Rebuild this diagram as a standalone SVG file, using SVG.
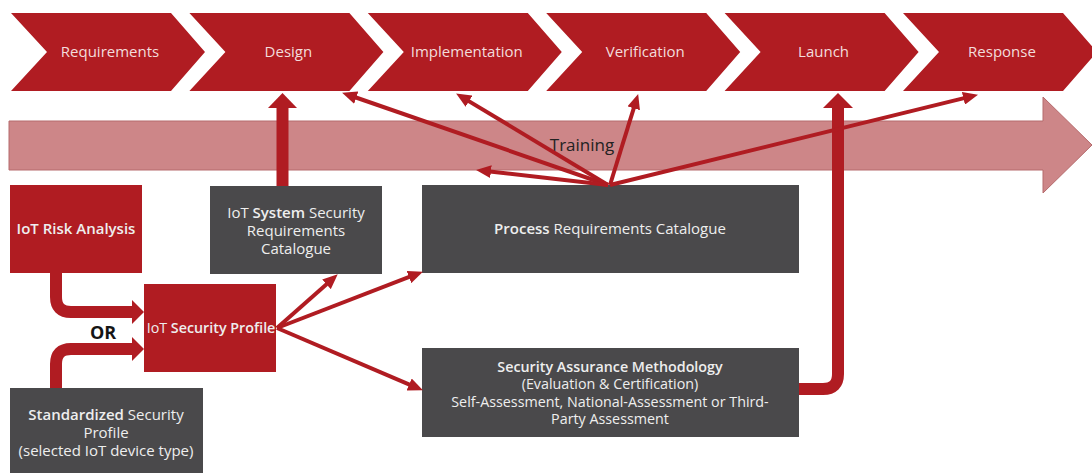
<svg xmlns="http://www.w3.org/2000/svg" width="1092" height="473" viewBox="0 0 1092 473">
<style>
.chev{fill:#b01c22}
.chevt{font-family:"Open Sans","Liberation Sans",sans-serif;font-size:15px;fill:#f3dcdc;text-anchor:middle}
.red{fill:#b01c22}
.gray{fill:#4a494b}
.bt{font-family:"Open Sans","Liberation Sans",sans-serif;font-size:15px;fill:#eeeeee;text-anchor:middle}
.sm{font-size:14.3px}
.b{font-weight:600}
.thick{fill:none;stroke:#b01c22;stroke-width:12}
.thin{fill:none;stroke:#b01c22;stroke-width:4;marker-end:url(#ah)}
.head{fill:#b01c22}
</style>
<defs>
<marker id="ah" markerUnits="userSpaceOnUse" markerWidth="15" markerHeight="13" refX="8" refY="6.5" orient="auto">
<path d="M0,0 L15,6.5 L0,13 Z" fill="#b01c22"/>
</marker>
</defs>
<rect width="1092" height="473" fill="#ffffff"/>

<g id="training">
<polygon points="9,121 1043,121 1043,97 1092,145 1043,193 1043,170 9,170" fill="#cd8688" stroke="#b56a6c" stroke-width="1"/>
<text x="582" y="151" font-family="Open Sans, Liberation Sans, sans-serif" font-size="17" font-weight="500" fill="#222222" text-anchor="middle">Training</text>
</g>

<g id="phases">
<g id="requirements"><path class="chev" d="M11,13 H171 L205,52 L171,91 H11 L47,52 Z"/><text class="chevt" x="110" y="57">Requirements</text></g>
<g id="design"><path class="chev" d="M189.4,13 H349.4 L383.4,52 L349.4,91 H189.4 L225.4,52 Z"/><text class="chevt" x="288.4" y="57">Design</text></g>
<g id="implementation"><path class="chev" d="M367.8,13 H527.8 L561.8,52 L527.8,91 H367.8 L403.8,52 Z"/><text class="chevt" x="466.8" y="57">Implementation</text></g>
<g id="verification"><path class="chev" d="M546.2,13 H706.2 L740.2,52 L706.2,91 H546.2 L582.2,52 Z"/><text class="chevt" x="645.2" y="57">Verification</text></g>
<g id="launch"><path class="chev" d="M724.6,13 H884.6 L918.6,52 L884.6,91 H724.6 L760.6,52 Z"/><text class="chevt" x="823.6" y="57">Launch</text></g>
<g id="response"><path class="chev" d="M903,13 H1063 L1097,52 L1063,91 H903 L939,52 Z"/><text class="chevt" x="1002" y="57">Response</text></g>
</g>

<g id="risk-analysis">
<rect class="red" x="10" y="185" width="132" height="88"/>
<text class="bt b" x="76" y="234">IoT Risk Analysis</text>
</g>

<g id="system-catalogue">
<rect class="gray" x="210" y="186" width="172" height="88"/>
<text class="bt" x="296" y="218">IoT <tspan class="b">System</tspan> Security</text>
<text class="bt" x="296" y="236">Requirements</text>
<text class="bt" x="296" y="254">Catalogue</text>
</g>

<g id="security-profile">
<rect class="red" x="144" y="284" width="132" height="88"/>
<text class="bt sm" x="211" y="333">IoT <tspan class="b">Security Profile</tspan></text>
</g>

<g id="standardized-profile">
<rect class="gray" x="10" y="388" width="193" height="90"/>
<text class="bt" x="106" y="420"><tspan class="b">Standardized</tspan> Security</text>
<text class="bt" x="106" y="438">Profile</text>
<text class="bt" x="106" y="456">(selected IoT device type)</text>
</g>

<g id="process-catalogue">
<rect class="gray" x="422" y="185" width="377" height="88"/>
<text class="bt" x="610" y="234"><tspan class="b">Process</tspan> Requirements Catalogue</text>
</g>

<g id="assurance">
<rect class="gray" x="422" y="348" width="377" height="89"/>
<text class="bt sm b" x="610" y="371.5">Security Assurance Methodology</text>
<text class="bt sm" x="610" y="389">(Evaluation &amp; Certification)</text>
<text class="bt sm" x="610" y="406.5">Self-Assessment, National-Assessment or Third-</text>
<text class="bt sm" x="610" y="424">Party Assessment</text>
</g>

<g id="connectors">
<path class="thick" d="M56,273 V297 Q56,312 71,312 H133"/>
<polygon class="head" points="132,300 144,312 132,324"/>
<path class="thick" d="M56,388 V364 Q56,349 71,349 H133"/>
<polygon class="head" points="132,337 144,349 132,361"/>
<text x="103" y="339" font-family="Open Sans, Liberation Sans, sans-serif" font-size="18" font-weight="bold" fill="#151515" text-anchor="middle">OR</text>
<path class="thick" d="M282.5,186 V107"/>
<polygon class="head" points="268,108 282.5,93 297,108"/>
<path class="thick" d="M799,389 H823 Q838,389 838,374 V107"/>
<polygon class="head" points="823,108 838,93 853,108"/>
<line class="thin" x1="277" y1="328" x2="332.5" y2="279"/>
<line class="thin" x1="277" y1="328" x2="416.4" y2="274.2"/>
<line class="thin" x1="277" y1="328" x2="416.5" y2="387.6"/>
<line class="thin" x1="608" y1="185" x2="348.7" y2="95"/>
<line class="thin" x1="608" y1="185" x2="462.1" y2="97.1"/>
<line class="thin" x1="608" y1="185" x2="483" y2="170.7"/>
<line class="thin" x1="610" y1="185" x2="636.1" y2="100.7"/>
<line class="thin" x1="610" y1="185" x2="971.2" y2="96.4"/>
</g>
</svg>
